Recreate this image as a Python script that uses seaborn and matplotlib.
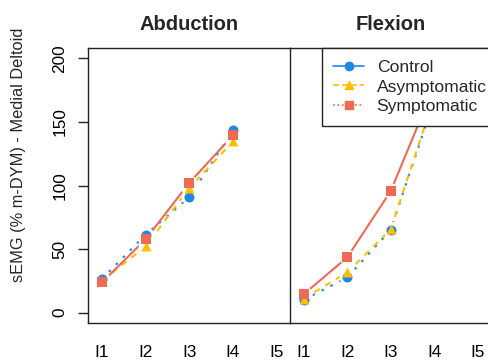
import numpy as np
import pandas as pd
import matplotlib
matplotlib.use("Agg")
import matplotlib.pyplot as plt
from matplotlib.lines import Line2D
import seaborn as sns

# ---- data ----
intervals = ["I1", "I2", "I3", "I4", "I5"]
groups = ["Control", "Asymptomatic", "Symptomatic"]
abd_control = [26.4, 61.3, 90.8, 143.4]
abd_asym = [25.0, 52.0, 98.0, 134.7]
abd_symp = [23.7, 57.6, 102.1, 139.5]
flex_control = [10.0, 27.6, 65.0, 167.0]
flex_asym = [11.0, 31.6, 65.5, 169.0]
flex_symp = [14.5, 43.4, 95.5, 178.0]
y_ticks = [0, 50, 100, 150, 200]

panels = {
    "Abduction": [abd_control, abd_asym, abd_symp],
    "Flexion": [flex_control, flex_asym, flex_symp],
}

rows = []
for panel, series in panels.items():
    for g, vals in zip(groups, series):
        for i, v in enumerate(vals):
            rows.append({"panel": panel, "group": g, "pos": i + 1, "value": v})
df = pd.DataFrame(rows)

# ---- styles ----
colors = {"Control": "#1E88E5", "Asymptomatic": "#FFBF00", "Symptomatic": "#EE6A55"}
markers = {"Control": "o", "Asymptomatic": "^", "Symptomatic": "s"}
plot_dashes = {"Control": (1.2, 3.6), "Asymptomatic": (3.0, 3.0), "Symptomatic": None}
legend_ls = {"Control": "-", "Asymptomatic": "--", "Symptomatic": ":"}

sns.set_theme(style="ticks")
plt.rcParams["font.family"] = ["Liberation Sans", "DejaVu Sans"]

W, H = 489, 363
fig = plt.figure(figsize=(W / 100, H / 100), dpi=100)
bottom = 1 - 322.7 / H
height = (322.7 - 48.3) / H
ax1 = fig.add_axes([88.3 / W, bottom, (290.3 - 88.3) / W, height])
ax2 = fig.add_axes([290.3 / W, bottom, (491 - 290.3) / W, height])
ax2.patch.set_visible(False)

lw = 1.5
for ax, panel in [(ax1, "Abduction"), (ax2, "Flexion")]:
    sub = df[df["panel"] == panel]
    # lines
    for g in groups:
        d = sub[sub["group"] == g]
        sns.lineplot(data=d, x="pos", y="value", color=colors[g], lw=lw, ax=ax,
                     legend=False, zorder=2)
        ln = ax.lines[-1]
        if plot_dashes[g] is not None:
            ln.set_dashes(plot_dashes[g])
    # white gaps around points
    for g in groups:
        d = sub[sub["group"] == g]
        sns.scatterplot(data=d, x="pos", y="value", color="white", marker="o",
                        s=130, linewidth=0, ax=ax, legend=False, zorder=3)
    # coloured points
    for g in groups:
        d = sub[sub["group"] == g]
        sns.scatterplot(data=d, x="pos", y="value", color=colors[g], marker=markers[g],
                        s=52, linewidth=0, ax=ax, legend=False, zorder=4)

    ax.set_xlim(0.69, 5.31)
    ax.set_ylim(-8, 208)
    ax.set_xticks(range(1, len(intervals) + 1))
    ax.set_xticklabels(intervals)
    ax.tick_params(axis="x", length=0, pad=16, labelsize=12.4, colors="black")
    ax.set_xlabel("")
    ax.set_ylabel("")
    ax.set_title(panel, fontweight="bold", fontsize=14.5, pad=13)
    for s in ax.spines.values():
        s.set_color("#222222")
        s.set_linewidth(1.0)

ax1.set_yticks(y_ticks)
ax1.tick_params(axis="y", length=7, width=1, pad=8, labelsize=12.4, labelrotation=90,
                colors="#222222", labelcolor="black")
for lab in ax1.get_yticklabels():
    lab.set_va("center")
ax1.set_ylabel("sEMG (% m-DYM) - Medial Deltoid", fontsize=11.8)
ax1.yaxis.set_label_coords(-0.308, 0.613)

ax2.set_yticks([])
ax2.spines["left"].set_visible(False)

handles = [Line2D([0], [0], color=colors[g], ls=legend_ls[g], marker=markers[g],
                  markersize=6, lw=1.2) for g in groups]
leg = ax2.legend(handles, groups, loc="upper right", bbox_to_anchor=(1.035, 1.0),
                 borderaxespad=0, frameon=True, fancybox=False, framealpha=1,
                 edgecolor="#222222", fontsize=12.6, handlelength=1.8,
                 handletextpad=0.7, labelspacing=0.25, borderpad=0.65)
leg.get_frame().set_linewidth(1.0)
leg.set_zorder(10)

fig.savefig("out.png", dpi=100)
